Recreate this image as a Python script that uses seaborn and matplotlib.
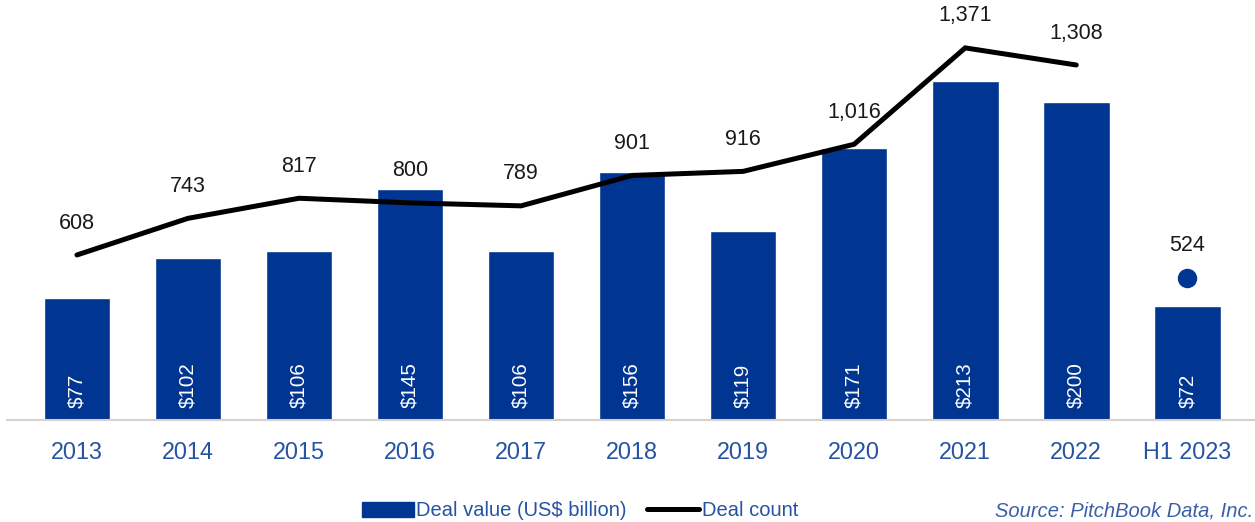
import numpy as np
import pandas as pd
import matplotlib
matplotlib.use("Agg")
import matplotlib.pyplot as plt
from matplotlib.patches import Patch
from matplotlib.lines import Line2D
import seaborn as sns

# Data
years = ["2013", "2014", "2015", "2016", "2017", "2018", "2019", "2020",
         "2021", "2022", "H1 2023"]
deal_value = [77, 102, 106, 145, 106, 156, 119, 171, 213, 200, 72]
deal_count = [608, 743, 817, 800, 789, 901, 916, 1016, 1371, 1308, 524]

BAR = "#003591"
TICK = "#2653A3"
FONT = "Liberation Sans"

sns.set_theme(style="white")
plt.rcParams["font.family"] = [FONT, "DejaVu Sans"]

df = pd.DataFrame({"year": years, "value": deal_value, "count": deal_count})

fig = plt.figure(figsize=(12.55, 5.22), dpi=100)
ax = fig.add_axes([7 / 1255, 102 / 522, 1248 / 1255, 415 / 522])

sns.barplot(data=df, x="year", y="value", color=BAR, saturation=1,
            width=0.6, ax=ax)

# bar labels, rotated inside the bar bottoms
for i, v in enumerate(deal_value):
    ax.annotate(f"${v}", xy=(i, 0), xytext=(0, 9), textcoords="offset points",
                rotation=90, ha="center", va="bottom", color="white",
                fontsize=14.8)

ax.set_xlim(-0.63, 10.61)
ax.set_ylim(0, 261)
ax.set_xlabel("")
ax.set_ylabel("")
ax.set_yticks([])
ax.tick_params(axis="x", length=0, pad=15, labelsize=16.8, labelcolor=TICK)
for s in ["top", "left", "right"]:
    ax.spines[s].set_visible(False)
ax.spines["bottom"].set_color("#D8CFCF")
ax.spines["bottom"].set_linewidth(1.5)

# deal count on secondary axis
ax2 = ax.twinx()
pos = np.arange(len(years))
ax2.plot(pos[:10], deal_count[:10], color="black", linewidth=3.6,
         solid_capstyle="round", solid_joinstyle="miter")
ax2.plot(pos[10], deal_count[10], "o", color=BAR, markersize=13)
ax2.set_ylim(0, 1529)
ax2.set_yticks([])
for s in ["top", "left", "right", "bottom"]:
    ax2.spines[s].set_visible(False)

for i, c in enumerate(deal_count):
    ax2.annotate(f"{c:,}", xy=(i, c), xytext=(0, 23), textcoords="offset points",
                 ha="center", va="center", color="#1a1a1a", fontsize=15.5)

# legend and source
handles = [Patch(facecolor=BAR, edgecolor=BAR),
           Line2D([0], [0], color="black", linewidth=3.6)]
leg = fig.legend(handles, ["Deal value (US$ billion)", "Deal count"],
                 loc="center", bbox_to_anchor=(580 / 1255, 1 - 511 / 522),
                 ncol=2, frameon=False, fontsize=14.5, handlelength=2.6,
                 handleheight=0.8, handletextpad=0.1, columnspacing=1.0)
for t in leg.get_texts():
    t.set_color(TICK)

fig.text(1253 / 1255, 1 - 511 / 522, "Source: PitchBook Data, Inc.",
         ha="right", va="center", style="italic", fontsize=14.5, color="#3A5FA8")

fig.savefig("out.png", dpi=100)
